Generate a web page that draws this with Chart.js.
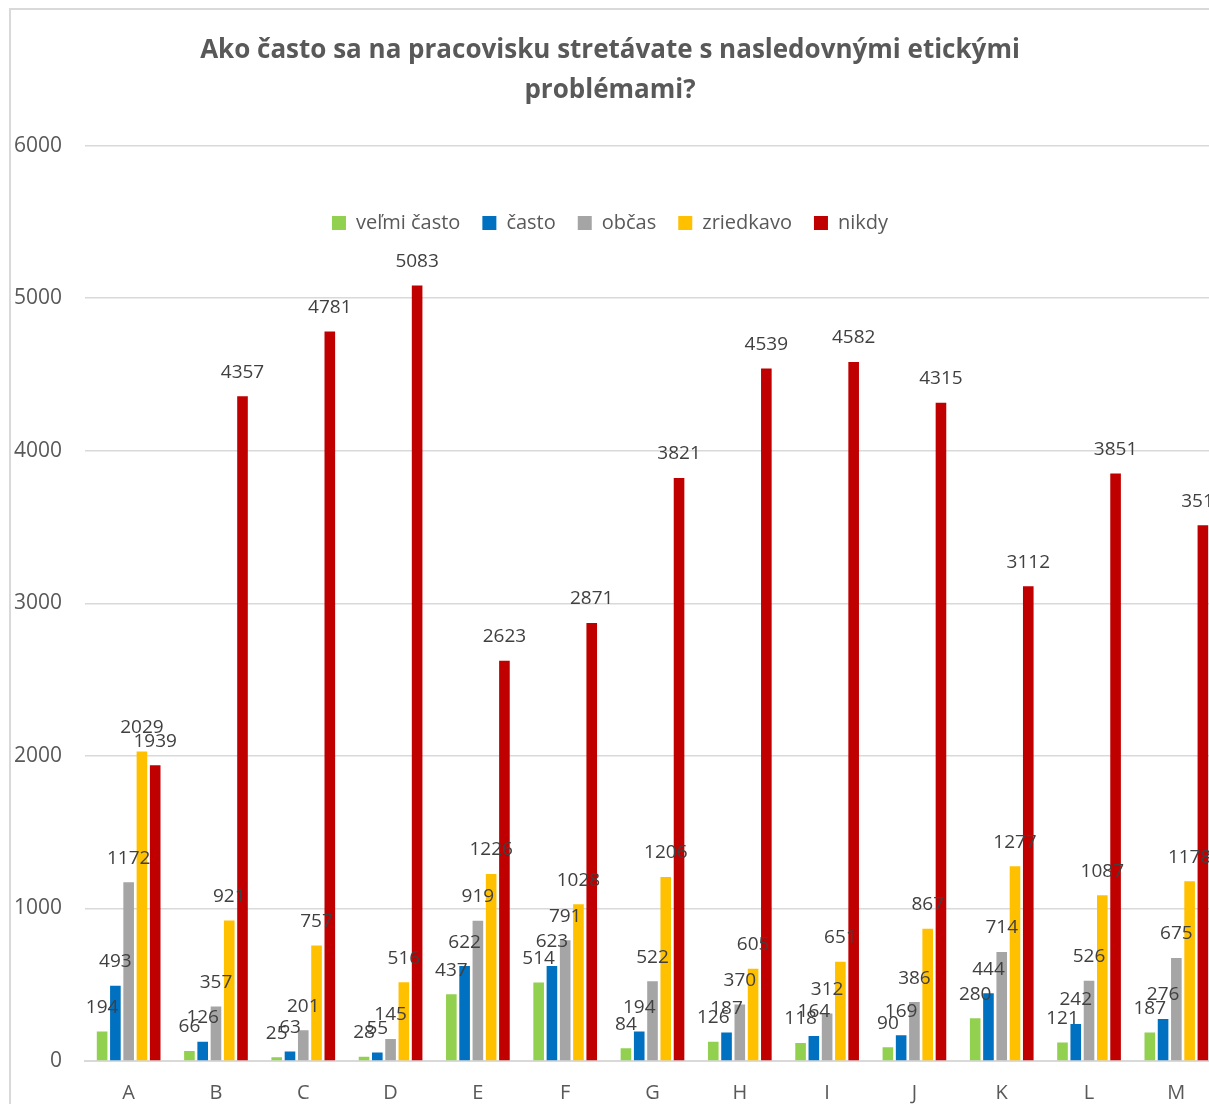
<!DOCTYPE html>
<html>
<head>
<meta charset="utf-8">
<script src="https://cdn.jsdelivr.net/npm/chart.js@4/dist/chart.umd.min.js"></script>
<style>
  html, body { margin: 0; padding: 0; background: #fff; overflow: hidden; }
  #wrap { position: absolute; left: 0; top: 0; width: 1220px; height: 1104px; }
  #frame { position: absolute; left: 9px; top: 8px; width: 1400px; height: 1400px;
           border: 2px solid #d9d9d9; pointer-events: none; }
</style>
</head>
<body>
<div id="wrap"><canvas id="chart" width="1220" height="1104"></canvas></div>
<div id="frame"></div>
<script>
const categories = ['A', 'B', 'C', 'D', 'E', 'F', 'G', 'H', 'I', 'J', 'K', 'L', 'M'];
const velmiCasto = [194, 66, 25, 28, 437, 514, 84, 126, 118, 90, 280, 121, 187];
const casto = [493, 126, 63, 55, 622, 623, 194, 187, 164, 169, 444, 242, 276];
const obcas = [1172, 357, 201, 145, 919, 791, 522, 370, 312, 386, 714, 526, 675];
const zriedkavo = [2029, 921, 757, 516, 1226, 1028, 1206, 605, 651, 867, 1277, 1087, 1178];
const nikdy = [1939, 4357, 4781, 5083, 2623, 2871, 3821, 4539, 4582, 4315, 3112, 3851, 3511];
const titleLines = ['Ako často sa na pracovisku stretávate s nasledovnými etickými', 'problémami?'];

const textColor = '#595959';
const gridColor = '#d9d9d9';
const font = 'Open Sans';

// value labels above each bar
const barLabels = {
  id: 'barLabels',
  afterDatasetsDraw(chart) {
    const ctx = chart.ctx;
    ctx.save();
    ctx.font = '19px "' + font + '"';
    ctx.fillStyle = '#404040';
    ctx.textAlign = 'center';
    ctx.textBaseline = 'middle';
    chart.data.datasets.forEach((ds, i) => {
      const meta = chart.getDatasetMeta(i);
      meta.data.forEach((bar, j) => {
        ctx.fillText(ds.data[j], bar.x, bar.y - 24);
      });
    });
    ctx.restore();
  }
};

// push the legend down into the plot area, like the original
const legendShift = {
  id: 'legendShift',
  afterLayout(chart) {
    const lg = chart.legend;
    if (!lg) return;
    lg.top = 191;
    lg.bottom = 191 + 80;
  }
};

const makeSet = (label, data, color) => ({
  label: label,
  data: data,
  backgroundColor: color,
  categoryPercentage: 0.76,
  barPercentage: 0.8
});

new Chart(document.getElementById('chart'), {
  type: 'bar',
  data: {
    labels: categories,
    datasets: [
      makeSet('veľmi často', velmiCasto, '#92d050'),
      makeSet('často', casto, '#0070c0'),
      makeSet('občas', obcas, '#a5a5a5'),
      makeSet('zriedkavo', zriedkavo, '#ffc000'),
      makeSet('nikdy', nikdy, '#c00000')
    ]
  },
  options: {
    responsive: false,
    animation: false,
    layout: { padding: { left: 0, right: 0, top: 0, bottom: 0 } },
    plugins: {
      title: {
        display: true,
        text: titleLines,
        color: textColor,
        font: { family: font, size: 26, weight: 'bold', lineHeight: 1.55 },
        padding: { top: 30, bottom: 0 }
      },
      legend: {
        position: 'top',
        align: 'center',
        maxHeight: 35,
        labels: {
          color: textColor,
          font: { family: font, size: 20 },
          boxWidth: 14,
          boxHeight: 14,
          padding: 22
        }
      },
      tooltip: { enabled: false }
    },
    scales: {
      x: {
        grid: { display: false, drawTicks: false },
        border: { display: true, color: gridColor, width: 2 },
        ticks: {
          color: textColor,
          font: { family: font, size: 20 },
          padding: 20
        },
        afterFit(scale) { scale.height = 43; }
      },
      y: {
        min: 0,
        max: 6000,
        grid: { color: gridColor, lineWidth: 1.5, drawTicks: false },
        border: { display: false },
        ticks: {
          stepSize: 1000,
          color: textColor,
          font: { family: font, size: 21 },
          padding: 23,
          callback: v => String(v)
        },
        afterFit(scale) { scale.width = 85; }
      }
    }
  },
  plugins: [barLabels, legendShift]
});
</script>
</body>
</html>
